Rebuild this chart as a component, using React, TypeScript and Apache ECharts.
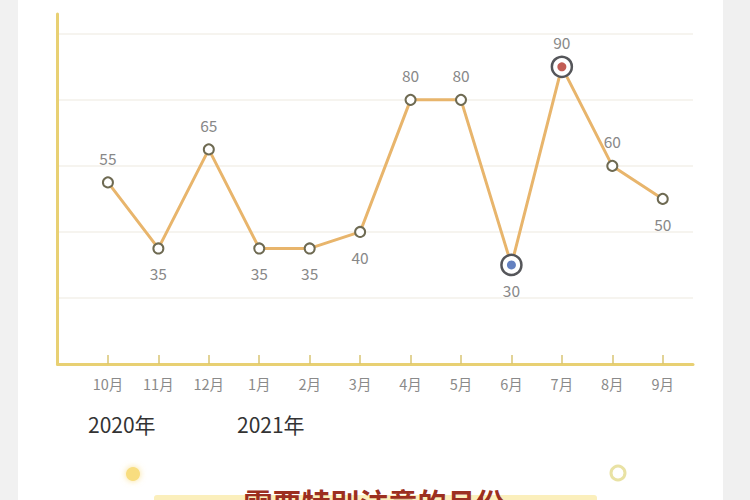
import React, { useEffect, useRef } from "react";
import * as echarts from "echarts";

const months = ["10月", "11月", "12月", "1月", "2月", "3月", "4月", "5月", "6月", "7月", "8月", "9月"];
const values = [55, 35, 65, 35, 35, 40, 80, 80, 30, 90, 60, 50];
const labelBelow = [false, true, false, true, true, true, false, false, true, false, false, true];
const highlightIdx = [8, 9];
const highlightColors = ["#3d62b0", "#b3352b"];
const years = ["2020年", "2021年"];
const bannerText = "需要特别注意的月份";

export default function App() {
  const ref = useRef<HTMLDivElement>(null);
  useEffect(() => {
    document.body.style.margin = "0";
    const chart = echarts.init(ref.current!, null, { renderer: "svg" });
    const font = "'Noto Sans CJK SC', 'Noto Sans', sans-serif";
    const lineData = values.map((v, i) => {
      const hi = highlightIdx.indexOf(i) >= 0;
      return {
        value: [i, v],
        symbolSize: hi ? 20 : 10,
        itemStyle: {
          color: "#ffffff",
          borderColor: hi ? "#55565a" : "#6e6a52",
          borderWidth: hi ? 2.5 : 2,
        },
        label: {
          show: true,
          position: labelBelow[i] ? "bottom" : "top",
          distance: hi ? 6 : 11,
        },
      };
    });
    const dotData = highlightIdx.map((idx, k) => ({
      value: [idx, values[idx]],
      itemStyle: { color: highlightColors[k] },
    }));
    chart.setOption({
      animation: false,
      backgroundColor: "#ffffff",
      grid: { left: 57.5, right: 57, top: 14, bottom: 136 },
      xAxis: {
        type: "value",
        min: -1,
        max: 11.6,
        interval: 1,
        axisLine: { show: true, onZero: true, lineStyle: { color: "#e8d073", width: 3 } },
        axisTick: {
          show: true,
          inside: true,
          length: 9,
          customValues: months.map((_, i) => i),
          lineStyle: { color: "#d9c473", width: 1.5 },
        },
        axisLabel: {
          customValues: months.map((_, i) => i),
          formatter: (v: number) => months[Math.round(v)] ?? "",
          color: "#8a8a8a",
          fontSize: 14.5,
          fontFamily: font,
          margin: 12,
        },
        splitLine: { show: false },
      },
      yAxis: {
        type: "value",
        min: 0,
        max: 106,
        interval: 20,
        axisLine: { show: true, onZero: false, lineStyle: { color: "#e8d073", width: 3 } },
        axisTick: { show: false },
        axisLabel: { show: false },
        splitLine: { show: true, showMaxLine: false, lineStyle: { color: "#f3f1ea", width: 1.5 } },
      },
      series: [
        {
          type: "line",
          data: lineData,
          symbol: "circle",
          lineStyle: { color: "#e8b56c", width: 3 },
          label: {
            color: "#888888",
            fontSize: 15.5,
            fontFamily: font,
          },
          z: 2,
        },
        {
          type: "scatter",
          data: dotData,
          symbol: "circle",
          symbolSize: 9,
          silent: true,
          z: 3,
        },
      ],
      graphic: [
        { type: "rect", shape: { x: 0, y: 0, width: 18, height: 500 }, style: { fill: "#f1f1f1" }, z: -10 },
        { type: "rect", shape: { x: 723, y: 0, width: 27, height: 500 }, style: { fill: "#f0f0f0" }, z: -10 },
        {
          type: "text",
          x: 88,
          y: 424,
          style: { text: years[0], fontSize: 21, fill: "#333333", fontFamily: font, verticalAlign: "middle" },
        },
        {
          type: "text",
          x: 237,
          y: 424,
          style: { text: years[1], fontSize: 21, fill: "#333333", fontFamily: font, verticalAlign: "middle" },
        },
        {
          type: "circle",
          shape: { cx: 133, cy: 474, r: 7 },
          style: { fill: "#f8dd7f", shadowBlur: 6, shadowColor: "rgba(245,210,100,0.7)" },
        },
        {
          type: "circle",
          shape: { cx: 618, cy: 473, r: 7 },
          style: { fill: "none", stroke: "#e9e2a4", lineWidth: 3 },
        },
        {
          type: "rect",
          shape: { x: 154, y: 495, width: 443, height: 10, r: 3 },
          style: { fill: "#fbefbc" },
        },
        {
          type: "text",
          x: 374,
          y: 502,
          style: {
            text: bannerText,
            fontSize: 29,
            fontWeight: "bold",
            fill: "#9c2f20",
            fontFamily: font,
            align: "center",
            verticalAlign: "middle",
          },
        },
      ],
    });
    return () => chart.dispose();
  }, []);
  return <div ref={ref} style={{ width: 750, height: 500 }} />;
}
